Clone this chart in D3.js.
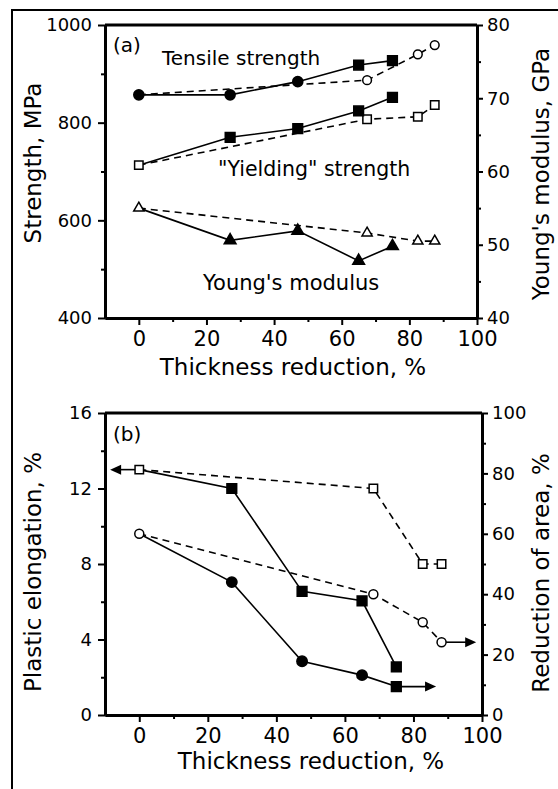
<!DOCTYPE html>
<html>
<head>
<meta charset="utf-8">
<script src="https://cdn.jsdelivr.net/npm/d3@7"></script>
<style>
  body { margin: 0; background: #fff; }
  text { font-family: "DejaVu Sans", sans-serif; fill: #000; }
</style>
</head>
<body>
<svg id="chart" width="558" height="789"></svg>
<script>
// (a) strength / modulus vs thickness reduction
var redA = [0, 27, 47, 65, 75];            // filled symbols
var redAOpen = [0, 67.5, 82.5, 87.5];      // open symbols
var tensile = [857, 857, 884, 918, 927];
var tensileOpen = [857, 887, 940, 959];
var yielding = [713, 770, 788, 824, 852];
var yieldingOpen = [713, 807, 812, 836];
var modulus = [55.0, 50.6, 51.9, 47.8, 49.8];
var modulusOpen = [55.0, 51.6, 50.5, 50.5];

// (b) ductility vs thickness reduction
var redB = [0, 27, 47.5, 65, 75];
var redBOpen = [0, 68.3, 82.7, 88.2];
var elong = [13.0, 12.0, 6.55, 6.05, 2.55];
var elongOpen = [13.0, 12.0, 8.0, 8.0];
var area = [60, 44, 17.8, 13.2, 9.4];
var areaOpen = [60, 40, 30.7, 24.1];

// arrows in (b) pointing to the axis a curve belongs to
var arrowFrom = [0, 75, 88.2];
var arrowTo = [-8.5, 86.6, 98.3];
var arrowVal = [13.0, 9.4, 24.1];
var arrowAxis = ["L", "R", "R"];

var xTicks = [0, 20, 40, 60, 80, 100], xMinor = [10, 30, 50, 70, 90];
var strengthTicks = [400, 600, 800, 1000], strengthMinor = [500, 700, 900];
var modulusTicks = [40, 50, 60, 70, 80], modulusMinor = [45, 55, 65, 75];
var elongTicks = [0, 4, 8, 12, 16], elongMinor = [2, 6, 10, 14];
var areaTicks = [0, 20, 40, 60, 80, 100], areaMinor = [10, 30, 50, 70, 90];

var svg = d3.select("#chart");

svg.append("rect")
  .attr("x", 12).attr("y", 10).attr("width", 600).attr("height", 800)
  .attr("fill", "none").attr("stroke", "#000").attr("stroke-width", 2);

function styleAxis(g) {
  g.select(".domain").attr("stroke-width", 3);
  g.selectAll(".tick line").attr("stroke-width", 2);
}

function drawAxes(x, yL, yR, o) {
  var yb = yL.range()[0], yt = yL.range()[1];
  var xl = x.range()[0], xr = x.range()[1];
  var fmt = d3.format("d");

  svg.append("g").attr("transform", "translate(0," + yb + ")")
    .call(d3.axisBottom(x).tickValues(xMinor).tickSize(4).tickSizeOuter(0).tickFormat(""))
    .call(styleAxis);
  var gx = svg.append("g").attr("transform", "translate(0," + yb + ")")
    .call(d3.axisBottom(x).tickValues(xTicks).tickSize(7).tickPadding(6).tickSizeOuter(0).tickFormat(fmt))
    .call(styleAxis);
  gx.selectAll("text").attr("font-family", "DejaVu Sans Condensed").attr("font-size", 21);

  svg.append("g").attr("transform", "translate(" + xl + ",0)")
    .call(d3.axisLeft(yL).tickValues(o.lMinor).tickSize(4).tickSizeOuter(0).tickFormat(""))
    .call(styleAxis);
  var gl = svg.append("g").attr("transform", "translate(" + xl + ",0)")
    .call(d3.axisLeft(yL).tickValues(o.lTicks).tickSize(7).tickPadding(6).tickSizeOuter(0).tickFormat(fmt))
    .call(styleAxis);
  gl.selectAll("text").attr("font-size", 18);

  svg.append("g").attr("transform", "translate(" + xr + ",0)")
    .call(d3.axisRight(yR).tickValues(o.rMinor).tickSize(4).tickSizeOuter(0).tickFormat(""))
    .call(styleAxis);
  var gr = svg.append("g").attr("transform", "translate(" + xr + ",0)")
    .call(d3.axisRight(yR).tickValues(o.rTicks).tickSize(6).tickPadding(4).tickSizeOuter(0).tickFormat(fmt))
    .call(styleAxis);
  gr.selectAll("text").attr("font-size", 18);

  svg.append("line")
    .attr("x1", xl).attr("x2", xr).attr("y1", yt).attr("y2", yt)
    .attr("stroke", "#000").attr("stroke-width", 3);

  svg.append("text").attr("x", o.xTitleX).attr("y", o.xTitleY)
    .attr("text-anchor", "middle").attr("font-size", 23).text("Thickness reduction, %");
  svg.append("text")
    .attr("transform", "translate(41," + o.lTitleY + ") rotate(-90)")
    .attr("text-anchor", "middle").attr("font-size", 23).text(o.lTitle);
  svg.append("text")
    .attr("transform", "translate(549," + o.rTitleY + ") rotate(-90)")
    .attr("text-anchor", "middle").attr("font-size", 23).text(o.rTitle);
}

function drawSeries(x, scales, list) {
  list.forEach(function (s) {
    var y = scales[s.axis];
    var line = d3.line().x(function (d) { return x(d[0]); }).y(function (d) { return y(d[1]); });
    svg.append("path").datum(d3.zip(s.x, s.y))
      .attr("d", line)
      .attr("fill", "none").attr("stroke", "#000").attr("stroke-width", 1.6)
      .attr("stroke-dasharray", s.filled ? null : "7,5");
  });
  list.forEach(function (s) {
    var y = scales[s.axis];
    var pts = d3.zip(s.x, s.y).map(function (d, i) { return d.concat([i]); })
      .filter(function (d) { return !(s.skip0 && d[2] === 0); });
    svg.append("g").selectAll("path").data(pts).join("path")
      .attr("transform", function (d) { return "translate(" + x(d[0]) + "," + y(d[1]) + ")"; })
      .attr("d", function (d) {
        var t = Array.isArray(s.sym) ? s.sym[d[2]] : s.sym;
        var sz = t === d3.symbolSquare ? 95 : s.size;
        return d3.symbol().type(t).size(s.filled ? sz : sz * 0.75)();
      })
      .attr("fill", s.filled ? "#000" : "#fff")
      .attr("stroke", "#000").attr("stroke-width", 1.5);
  });
}

var C = d3.symbolCircle, S = d3.symbolSquare, T = d3.symbolTriangle;

// ---------- panel (a) ----------
var xA = d3.scaleLinear().domain([-10, 100]).range([105, 477]);
var yStr = d3.scaleLinear().domain([400, 1000]).range([318, 25]);
var yMod = d3.scaleLinear().domain([40, 80]).range([318, 25]);

drawAxes(xA, yStr, yMod, {
  lTicks: strengthTicks, lMinor: strengthMinor,
  rTicks: modulusTicks, rMinor: modulusMinor,
  xTitleX: 293, xTitleY: 375,
  lTitle: "Strength, MPa", lTitleY: 163,
  rTitle: "Young's modulus, GPa", rTitleY: 174
});

drawSeries(xA, { L: yStr, R: yMod }, [
  { x: redAOpen, y: tensileOpen, axis: "L", sym: C, size: 80, filled: false, skip0: true },
  { x: redAOpen, y: yieldingOpen, axis: "L", sym: S, size: 90, filled: false },
  { x: redAOpen, y: modulusOpen, axis: "R", sym: T, size: 60, filled: false },
  { x: redA, y: tensile, axis: "L", sym: [C, C, C, S, S], size: 80, filled: true },
  { x: redA, y: yielding, axis: "L", sym: S, size: 90, filled: true, skip0: true },
  { x: redA, y: modulus, axis: "R", sym: T, size: 60, filled: true, skip0: true }
]);

svg.append("text").attr("x", 113).attr("y", 52).attr("font-size", 20).text("(a)");
svg.append("text").attr("x", 162).attr("y", 65).attr("font-size", 20).text("Tensile strength");
svg.append("text").attr("x", 218).attr("y", 176).attr("font-size", 20.5).text("\"Yielding\" strength");
svg.append("text").attr("x", 203).attr("y", 290).attr("font-size", 21).text("Young's modulus");

// ---------- panel (b) ----------
var xB = d3.scaleLinear().domain([-10, 100]).range([105, 482]);
var yEl = d3.scaleLinear().domain([0, 16]).range([715, 413]);
var yAr = d3.scaleLinear().domain([0, 100]).range([715, 413]);

drawAxes(xB, yEl, yAr, {
  lTicks: elongTicks, lMinor: elongMinor,
  rTicks: areaTicks, rMinor: areaMinor,
  xTitleX: 311, xTitleY: 769,
  lTitle: "Plastic elongation, %", lTitleY: 572,
  rTitle: "Reduction of area, %", rTitleY: 573
});

var scB = { L: yEl, R: yAr };
arrowFrom.forEach(function (x0, i) {
  var y = scB[arrowAxis[i]], py = y(arrowVal[i]);
  var a = xB(x0), b = xB(arrowTo[i]), dir = b > a ? 1 : -1;
  svg.append("line").attr("x1", a).attr("x2", b - dir * 8).attr("y1", py).attr("y2", py)
    .attr("stroke", "#000").attr("stroke-width", 1.6);
  svg.append("path")
    .attr("d", "M" + b + "," + py + "L" + (b - dir * 11) + "," + (py - 5) + "L" + (b - dir * 11) + "," + (py + 5) + "Z")
    .attr("fill", "#000");
});

drawSeries(xB, scB, [
  { x: redB, y: elong, axis: "L", sym: S, size: 100, filled: true, skip0: true },
  { x: redB, y: area, axis: "R", sym: [C, C, C, C, S], size: 85, filled: true, skip0: true },
  { x: redBOpen, y: elongOpen, axis: "L", sym: S, size: 90, filled: false },
  { x: redBOpen, y: areaOpen, axis: "R", sym: C, size: 85, filled: false }
]);

svg.append("text").attr("x", 113).attr("y", 441).attr("font-size", 20).text("(b)");
</script>
</body>
</html>
